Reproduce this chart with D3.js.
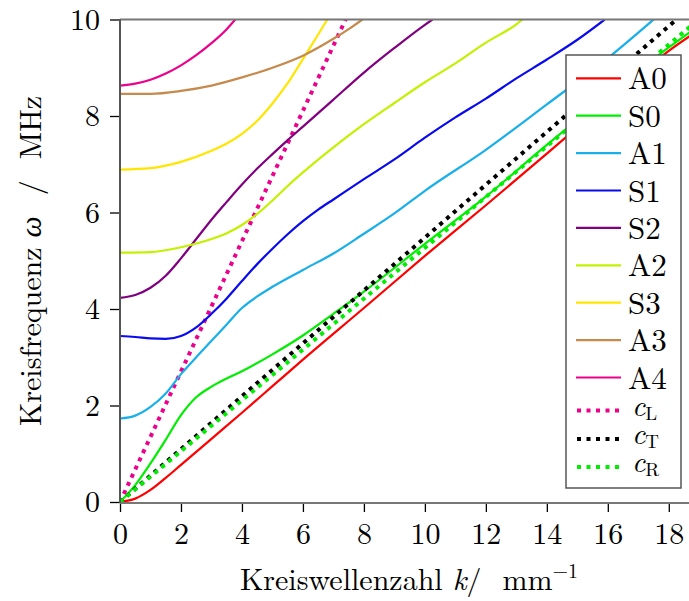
<!DOCTYPE html>
<html>
<head>
<meta charset="utf-8">
<script src="https://cdn.jsdelivr.net/npm/d3@7"></script>
</head>
<body style="margin:0;padding:0;background:#fff">
<svg id="chart" width="689" height="601" style="display:block"></svg>
<script>
// ---------- data ----------
const modeNames = ["A0", "S0", "A1", "S1", "S2", "A2", "S3", "A3", "A4"];

const kA0 = [0, 0.5, 1, 1.5, 2, 3, 4, 5, 6, 8, 10, 12, 14, 16, 18, 18.7];
const wA0 = [0, 0.07, 0.25, 0.5, 0.77, 1.31, 1.85, 2.4, 2.95, 4.02, 5.1, 6.15, 7.22, 8.3, 9.35, 9.66];

const kS0 = [0, 0.5, 1, 1.5, 2, 2.5, 3, 3.5, 4, 5, 6, 7, 8, 10, 12, 14, 16, 18, 18.7];
const wS0 = [0, 0.35, 0.8, 1.29, 1.8, 2.17, 2.39, 2.56, 2.71, 3.06, 3.45, 3.9, 4.36, 5.35, 6.33, 7.4, 8.43, 9.42, 9.74];

const kA1 = [0, 0.5, 1, 1.5, 2, 2.5, 3, 3.5, 4, 4.5, 5, 6, 7, 8, 9, 10, 12, 14, 16, 17.5];
const wA1 = [1.73, 1.79, 1.97, 2.25, 2.65, 3.0, 3.34, 3.68, 4.02, 4.26, 4.46, 4.81, 5.15, 5.56, 5.98, 6.45, 7.3, 8.24, 9.2, 10.0];

const kS1 = [0, 0.5, 1, 1.5, 2, 2.5, 3, 3.5, 4, 4.5, 5, 5.5, 6, 6.5, 7, 8, 9, 10, 11, 12, 13, 14, 15, 15.9];
const wS1 = [3.44, 3.42, 3.39, 3.38, 3.44, 3.62, 3.9, 4.22, 4.58, 4.93, 5.25, 5.55, 5.82, 6.06, 6.27, 6.69, 7.1, 7.55, 7.97, 8.36, 8.78, 9.17, 9.58, 10.0];

const kS2 = [0, 0.5, 1, 1.5, 2, 2.5, 3, 3.5, 4, 4.5, 5, 5.5, 6, 7, 8, 9, 10, 10.25];
const wS2 = [4.23, 4.29, 4.44, 4.69, 5.05, 5.45, 5.85, 6.22, 6.58, 6.91, 7.21, 7.5, 7.78, 8.34, 8.9, 9.41, 9.89, 10.0];

const kA2 = [0, 1, 2, 3, 3.5, 4, 4.5, 5, 5.5, 6, 7, 8, 9, 10, 11, 12, 13, 13.2];
const wA2 = [5.17, 5.18, 5.28, 5.45, 5.57, 5.74, 5.97, 6.25, 6.55, 6.83, 7.35, 7.83, 8.27, 8.7, 9.09, 9.52, 9.9, 10.0];

const kS3 = [0, 1, 2, 3, 3.5, 4, 4.5, 5, 5.5, 6, 6.5, 6.8];
const wS3 = [6.89, 6.92, 7.05, 7.28, 7.43, 7.63, 7.9, 8.26, 8.68, 9.18, 9.69, 10.0];

const kA3 = [0, 1, 2, 3, 4, 5, 6, 7, 7.5, 7.95];
const wA3 = [8.46, 8.46, 8.52, 8.63, 8.8, 9.0, 9.25, 9.6, 9.8, 10.0];

const kA4 = [0, 0.5, 1, 1.5, 2, 2.5, 3, 3.5, 3.78];
const wA4 = [8.63, 8.67, 8.75, 8.88, 9.05, 9.26, 9.51, 9.8, 10.0];

// bulk wave speeds (straight lines through origin), endpoints
const kCL = [0, 7.4];   const wCL = [0, 10];
const kCT = [0, 18.25]; const wCT = [0, 10];
const kCR = [0, 18.7];  const wCR = [0, 9.85];

const xTicks = [0, 2, 4, 6, 8, 10, 12, 14, 16, 18];
const yTicks = [0, 2, 4, 6, 8, 10];

// ---------- layout ----------
const FONT = '"Latin Modern Roman", "Liberation Serif", serif';
const svg = d3.select("#chart").attr("font-family", FONT);
const L = 120, R = 688, T = 19.5, B = 502;
const x = d3.scaleLinear().domain([0, 18.63]).range([L, R]);
const y = d3.scaleLinear().domain([0, 10]).range([B, T]);

const modes = [
  {name: "A0", k: kA0, w: wA0, color: "#ff0000"},
  {name: "S0", k: kS0, w: wS0, color: "#00ee00"},
  {name: "A1", k: kA1, w: wA1, color: "#19b0ea"},
  {name: "S1", k: kS1, w: wS1, color: "#0a0af0"},
  {name: "S2", k: kS2, w: wS2, color: "#800080"},
  {name: "A2", k: kA2, w: wA2, color: "#c2f200"},
  {name: "S3", k: kS3, w: wS3, color: "#ffe600"},
  {name: "A3", k: kA3, w: wA3, color: "#c68a4c"},
  {name: "A4", k: kA4, w: wA4, color: "#ec008c"}
];
const speeds = [
  {name: "L", k: kCL, w: wCL, color: "#ec008c"},
  {name: "T", k: kCT, w: wCT, color: "#000000"},
  {name: "R", k: kCR, w: wCR, color: "#00ee00"}
];

svg.append("defs").append("clipPath").attr("id", "plotclip")
  .append("rect").attr("x", L).attr("y", T).attr("width", R - L + 2).attr("height", B - T);

const line = d3.line().x(d => x(d[0])).y(d => y(d[1])).curve(d3.curveMonotoneX);
const straight = d3.line().x(d => x(d[0])).y(d => y(d[1]));
const plot = svg.append("g").attr("clip-path", "url(#plotclip)");

function drawSpeed(s) {
  const pts = s.k.map((kk, i) => [kk, s.w[i]]);
  plot.append("path").attr("d", straight(pts))
    .attr("fill", "none").attr("stroke", s.color).attr("stroke-width", 4)
    .attr("stroke-dasharray", "4 5");
}
drawSpeed(speeds[0]);
modes.forEach(m => {
  const pts = m.k.map((kk, i) => [kk, m.w[i]]);
  plot.append("path").attr("d", line(pts))
    .attr("fill", "none").attr("stroke", m.color).attr("stroke-width", 2.2);
});
drawSpeed(speeds[1]);
drawSpeed(speeds[2]);

// ---------- axes ----------
const FS = 30;
const xAxis = d3.axisBottom(x).tickValues(xTicks).tickSize(10).tickPadding(9).tickFormat(d3.format("d"));
const gx = svg.append("g").attr("transform", `translate(0,${B})`).call(xAxis);
gx.attr("font-family", FONT).attr("font-size", FS);
gx.select(".domain").remove();
gx.selectAll(".tick line").attr("stroke", "#000").attr("stroke-width", 1.3);
gx.selectAll(".tick text").attr("font-family", FONT).attr("font-size", FS).attr("dy", "0.75em").attr("fill", "#000");

const yAxis = d3.axisLeft(y).tickValues(yTicks).tickSize(10).tickPadding(10).tickFormat(d3.format("d"));
const gy = svg.append("g").attr("transform", `translate(${L},0)`).call(yAxis);
gy.attr("font-family", FONT).attr("font-size", FS);
gy.select(".domain").remove();
gy.selectAll(".tick line").attr("stroke", "#000").attr("stroke-width", 1.3);
gy.selectAll(".tick text").attr("font-family", FONT).attr("font-size", FS).attr("dy", "0.33em").attr("fill", "#000");

// frame lines
svg.append("line").attr("x1", L).attr("x2", 689).attr("y1", T).attr("y2", T).attr("stroke", "#777").attr("stroke-width", 2);
svg.append("line").attr("x1", L).attr("x2", 689).attr("y1", B + 1).attr("y2", B + 1).attr("stroke", "#777").attr("stroke-width", 2);
svg.append("line").attr("x1", L).attr("x2", L).attr("y1", T).attr("y2", B + 1).attr("stroke", "#555").attr("stroke-width", 2);

// axis titles
const TS = 30;
const xt = svg.append("text").attr("x", 409).attr("y", 590).attr("text-anchor", "middle")
  .attr("font-family", FONT).attr("font-size", TS).attr("fill", "#000");
xt.append("tspan").text("Kreiswellenzahl ");
xt.append("tspan").attr("font-style", "italic").text("k");
xt.append("tspan").text("/\u00a0\u2009mm");
xt.append("tspan").attr("font-size", 20).attr("dy", -12).text("\u22121");

const yt = svg.append("text").attr("transform", "translate(41,261) rotate(-90)").attr("text-anchor", "middle")
  .attr("font-family", FONT).attr("font-size", TS).attr("fill", "#000");
yt.append("tspan").text("Kreisfrequenz ");
yt.append("tspan").attr("font-style", "italic").text("\u03c9");
yt.append("tspan").text("\u00a0\u2009/\u00a0\u2009MHz");

// ---------- legend ----------
const lg = svg.append("g");
lg.append("rect").attr("x", 566).attr("y", 55).attr("width", 115).attr("height", 433)
  .attr("fill", "#fff").attr("stroke", "#555").attr("stroke-width", 1.5);
const rowY0 = 78.3, rowStep = 37.4;
modes.forEach((m, i) => {
  const ry = rowY0 + i * rowStep;
  lg.append("line").attr("x1", 576).attr("x2", 621).attr("y1", ry).attr("y2", ry)
    .attr("stroke", m.color).attr("stroke-width", 2.2);
  lg.append("text").attr("x", 628).attr("y", ry + 11).attr("font-family", FONT)
    .attr("font-size", 31).attr("fill", "#000").text(m.name);
});
const dotRows = [410.5, 439, 467];
speeds.forEach((s, i) => {
  const ry = dotRows[i];
  lg.append("line").attr("x1", 577).attr("x2", 620).attr("y1", ry).attr("y2", ry)
    .attr("stroke", s.color).attr("stroke-width", 4).attr("stroke-dasharray", "4 5.5");
  const t = lg.append("text").attr("x", 632).attr("y", ry + 5).attr("font-family", FONT)
    .attr("font-size", 29).attr("fill", "#000");
  t.append("tspan").attr("font-style", "italic").text("c");
  t.append("tspan").attr("font-size", 19).attr("dy", 4).text(s.name);
});
</script>
</body>
</html>
